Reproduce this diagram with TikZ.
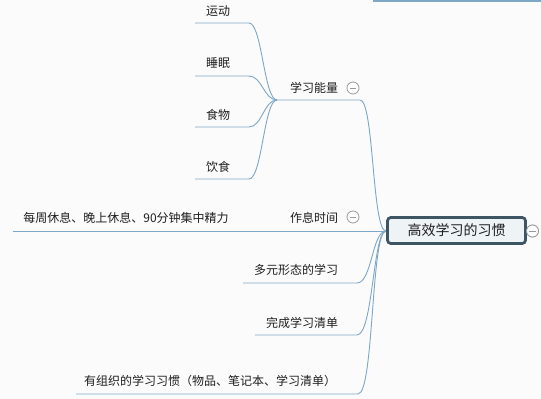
\documentclass[tikz,border=0pt]{standalone}
\usepackage{fontspec}
\setmainfont{Noto Sans CJK SC}
\definecolor{linec}{HTML}{7EA6C6}
\definecolor{boxborder}{HTML}{3E5564}
\definecolor{boxfill}{HTML}{EEF3F6}
\definecolor{bgc}{HTML}{FBFBFB}
\definecolor{togglec}{HTML}{9A9A9A}
\definecolor{txtc}{HTML}{1E1E1E}
\tikzset{
  conn/.style={draw=linec, line width=0.9pt},
  lbl/.style={font=\fontsize{12}{14}\selectfont, text=txtc, inner sep=0pt},
  rootbox/.style={draw=boxborder, line width=2.6pt, fill=boxfill, rounded corners=3.5pt,
    minimum width=138pt, minimum height=26pt, font=\fontsize{14}{16}\selectfont, text=txtc, inner sep=0pt},
  toggle/.style={circle, draw=togglec, line width=0.8pt, fill=white, minimum size=12pt, inner sep=0pt,
    path picture={\draw[togglec, line width=0.8pt] ([xshift=-3.2pt]path picture bounding box.center) -- ([xshift=3.2pt]path picture bounding box.center);}}
}
\begin{document}
\begin{tikzpicture}[x=1pt,y=-1pt]
\fill[bgc] (0,0) rectangle (541,399);
\useasboundingbox (0,0) rectangle (541,399);

% top-right partial branch
\coordinate (tr1) at (373,1);
\coordinate (tr2) at (541,1);
\draw[conn, line width=1.4pt] (tr1) -- (tr2);

% root
\node[rootbox] (root) at (456.5,230.5) {高效学习的习惯};
\coordinate (hub) at (386,231);
\node[toggle] (troot) at (532.5,231) {};

% branch 1
\node[lbl] (b1) at (314,88) {学习能量};
\node[toggle] (t1) at (353,88) {};
\coordinate (b1s) at (277,100);
\coordinate (b1e) at (360,100);
\draw[conn] (b1s) -- (b1e) .. controls (374,100) and (372,231) .. (hub);

% sub-branches of branch 1
\node[lbl] (s1) at (218,11) {运动};
\node[lbl] (s2) at (218,63) {睡眠};
\node[lbl] (s3) at (218,115) {食物};
\node[lbl] (s4) at (218,167) {饮食};
\coordinate (s1a) at (195,23); \coordinate (s1b) at (249,23);
\coordinate (s2a) at (195,76); \coordinate (s2b) at (249,76);
\coordinate (s3a) at (195,127); \coordinate (s3b) at (249,127);
\coordinate (s4a) at (195,179); \coordinate (s4b) at (249,179);
\draw[conn] (s1a) -- (s1b) .. controls (262,23) and (264,100) .. (b1s);
\draw[conn] (s2a) -- (s2b) .. controls (262,76) and (264,100) .. (b1s);
\draw[conn] (s3a) -- (s3b) .. controls (262,127) and (264,100) .. (b1s);
\draw[conn] (s4a) -- (s4b) .. controls (262,179) and (264,100) .. (b1s);

% branch 2
\node[lbl] (b2) at (314,218) {作息时间};
\node[toggle] (t2) at (353,217) {};
\node[lbl] (c2) at (126,218) {每周休息、晚上休息、90分钟集中精力};
\coordinate (c2s) at (13,231);
\draw[conn] (c2s) -- (hub);

% branch 3
\node[lbl] (b3) at (296,270) {多元形态的学习};
\coordinate (b3s) at (243,283); \coordinate (b3e) at (357,283);
\draw[conn] (b3s) -- (b3e) .. controls (372,283) and (372,231) .. (hub);

% branch 4
\node[lbl] (b4) at (302,323) {完成学习清单};
\coordinate (b4s) at (255,335); \coordinate (b4e) at (357,335);
\draw[conn] (b4s) -- (b4e) .. controls (373,335) and (373,231) .. (hub);

% branch 5
\node[lbl] (b5) at (210,381) {有组织的学习习惯（物品、笔记本、学习清单）};
\coordinate (b5s) at (76,394); \coordinate (b5e) at (358,394);
\draw[conn] (b5s) -- (b5e) .. controls (374,394) and (371,231) .. (hub);

% redraw root on top
\node[rootbox] at (root) {高效学习的习惯};
\node[toggle] at (troot) {};
\end{tikzpicture}
\end{document}
